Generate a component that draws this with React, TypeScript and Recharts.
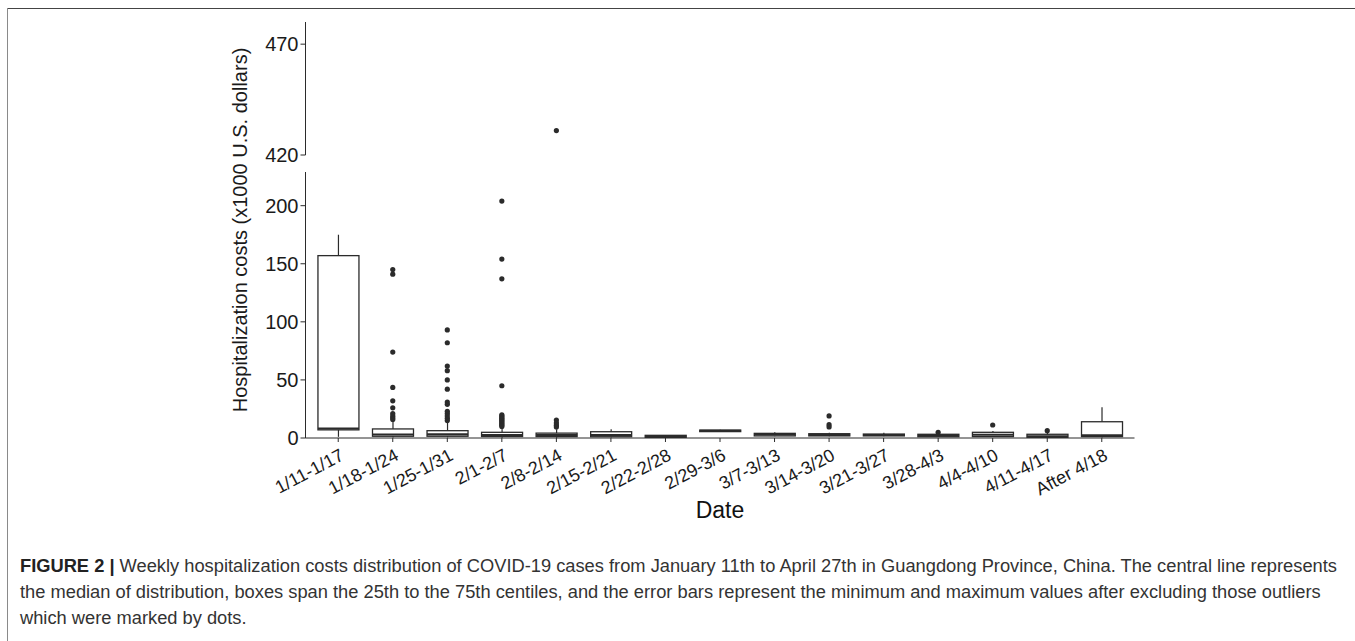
import React from "react";
import { Bar, ComposedChart, Scatter, XAxis, YAxis } from "recharts";

const dates = [
  "1/11-1/17", "1/18-1/24", "1/25-1/31", "2/1-2/7", "2/8-2/14", "2/15-2/21", "2/22-2/28",
  "2/29-3/6", "3/7-3/13", "3/14-3/20", "3/21-3/27", "3/28-4/3", "4/4-4/10", "4/11-4/17", "After 4/18",
];
// x1000 USD
const whiskerLow = [1, 0.5, 0.5, 0.3, 0.3, 0.5, 0.2, 5.4, 1.5, 1.5, 1.5, 0.8, 0.8, 0.3, 0.5];
const q1 = [7, 1.5, 1.5, 1.3, 1.2, 1.1, 0.4, 5.5, 1.8, 1.8, 1.8, 1.1, 1.2, 0.6, 1.2];
const median = [8.2, 3, 3.2, 2.6, 2.5, 2.6, 1.2, 6.2, 3, 2.6, 2.6, 2.2, 2.8, 1.5, 2.2];
const q3 = [157, 7.8, 6.3, 4.9, 4.2, 5.4, 2.3, 6.8, 4, 3.7, 3.4, 3.2, 4.9, 3.2, 14];
const whiskerHigh = [175, 14, 13.5, 9, 7.5, 7.5, 2.6, 7, 4.9, 4.5, 4.5, 3.6, 6, 4.5, 26.4];
const outliers = [
  [],
  [145, 141, 74, 43.5, 32, 26, 21, 19, 17.5, 16],
  [93, 82, 62, 58, 50, 42, 31, 29, 23, 21, 19, 17, 15],
  [204, 154, 137, 45, 20, 19, 18, 17, 16, 15, 14, 13, 12, 11, 10],
  [431, 15.5, 13, 11, 9.5],
  [], [], [], [],
  [19, 11.5, 9.5],
  [],
  [4.9],
  [11.2],
  [6.3],
  [],
];
const upperTicks = [420, 470];
const lowerTicks = [0, 50, 100, 150, 200];

const rows = dates.map((date, i) => ({
  date,
  whisker: [whiskerLow[i], whiskerHigh[i]],
  box: [q1[i], q3[i]],
  q1: q1[i],
  med: median[i],
  q3: q3[i],
}));
const points = dates.flatMap((_, i) => outliers[i].map((v) => ({ i, v })));
const lowerPoints = points.filter((p) => p.v < 420);
const upperPoints = points.filter((p) => p.v >= 420);

const INK = "#2b2b2b";
const W = 1355;
const PAD = 5.45;
const yTick = { fontSize: 20, fill: "#1a1a1a" };

function Whisker(props: any) {
  const { x, y, width, height } = props;
  const cx = x + width / 2;
  return <line x1={cx} x2={cx} y1={y} y2={y + height} stroke={INK} strokeWidth={1.2} />;
}

function Box(props: any) {
  const { x, y, width, height, payload } = props;
  const top = Math.min(y, y + height);
  const h = Math.abs(height);
  const medY = top + (h * (payload.q3 - payload.med)) / (payload.q3 - payload.q1);
  return (
    <g>
      <rect x={x} y={top} width={width} height={h} fill="#fff" stroke={INK} strokeWidth={1.3} />
      <line x1={x} x2={x + width} y1={medY} y2={medY} stroke={INK} strokeWidth={2.2} />
    </g>
  );
}

function Dot(props: any) {
  return <circle cx={props.cx} cy={props.cy} r={2.6} fill={INK} />;
}

function DateTick({ x, y, payload }: any) {
  const ax = x + 7;
  const ay = y + 15;
  return (
    <text
      x={ax}
      y={ay}
      transform={`rotate(-28, ${ax}, ${ay})`}
      textAnchor="end"
      style={{ fontSize: 18, fill: "#1a1a1a" }}
    >
      {payload.value}
    </text>
  );
}

export default function App() {
  return (
    <div
      style={{
        position: "absolute",
        left: 0,
        top: 0,
        width: W,
        height: 641,
        background: "#fff",
        fontFamily: "'Liberation Sans', Arial, sans-serif",
        overflow: "hidden",
      }}
    >
      <div style={{ position: "absolute", left: 7, top: 8, right: 0, height: 0, borderTop: "1.5px solid #444" }} />
      <div style={{ position: "absolute", left: 7, top: 8, bottom: 0, width: 0, borderLeft: "1px solid #8a8a8a" }} />

      <div style={{ position: "absolute", left: 0, top: 0 }}>
        <ComposedChart width={W} height={200} margin={{ top: 22, right: 220.5, bottom: 45, left: 245.5 }}>
          <XAxis xAxisId="s" type="number" dataKey="i" domain={[-0.6, 14.6]} hide />
          <YAxis
            type="number"
            domain={[420, 480]}
            ticks={upperTicks}
            allowDataOverflow
            width={60}
            tickSize={5}
            tickMargin={2}
            tick={yTick}
            axisLine={{ stroke: INK }}
            tickLine={{ stroke: INK }}
          />
          <Scatter xAxisId="s" data={upperPoints} dataKey="v" shape={Dot} isAnimationActive={false} />
        </ComposedChart>
      </div>

      <div style={{ position: "absolute", left: 0, top: 0 }}>
        <ComposedChart
          width={W}
          height={641}
          data={rows}
          margin={{ top: 172, right: 220.5, bottom: 123, left: 245.5 }}
        >
          <XAxis
            xAxisId="main"
            dataKey="date"
            type="category"
            interval={0}
            padding={{ left: PAD, right: PAD }}
            height={80}
            tickSize={4}
            tick={<DateTick />}
            axisLine={{ stroke: INK }}
            tickLine={{ stroke: INK }}
            label={{ value: "Date", position: "insideBottom", offset: 0, fontSize: 23, fill: "#111" }}
          />
          <XAxis xAxisId="w" dataKey="date" type="category" padding={{ left: PAD, right: PAD }} hide />
          <XAxis xAxisId="s" type="number" dataKey="i" domain={[-0.6, 14.6]} hide />
          <YAxis
            type="number"
            domain={[0, 229]}
            ticks={lowerTicks}
            allowDataOverflow
            width={60}
            tickSize={5}
            tickMargin={2}
            tick={yTick}
            axisLine={{ stroke: INK }}
            tickLine={{ stroke: INK }}
          />
          <Bar xAxisId="w" dataKey="whisker" barSize={41} shape={Whisker} isAnimationActive={false} />
          <Bar xAxisId="main" dataKey="box" barSize={41} shape={Box} isAnimationActive={false} />
          <Scatter xAxisId="s" data={lowerPoints} dataKey="v" shape={Dot} isAnimationActive={false} />
        </ComposedChart>
      </div>

      <div
        style={{
          position: "absolute",
          left: 240,
          top: 230,
          transform: "translate(-50%, -50%) rotate(-90deg)",
          whiteSpace: "nowrap",
          fontSize: 20,
          color: "#1a1a1a",
        }}
      >
        Hospitalization costs (x1000 U.S. dollars)
      </div>

      <div
        style={{
          position: "absolute",
          left: 20,
          top: 553,
          fontSize: 18.3,
          lineHeight: "26px",
          color: "#333",
          whiteSpace: "nowrap",
        }}
      >
        <b style={{ color: "#222" }}>FIGURE 2 |</b> Weekly hospitalization costs distribution of COVID-19 cases from
        January 11th to April 27th in Guangdong Province, China. The central line represents
        <br />
        the median of distribution, boxes span the 25th to the 75th centiles, and the error bars represent the minimum
        and maximum values after excluding those outliers
        <br />
        which were marked by dots.
      </div>
    </div>
  );
}
